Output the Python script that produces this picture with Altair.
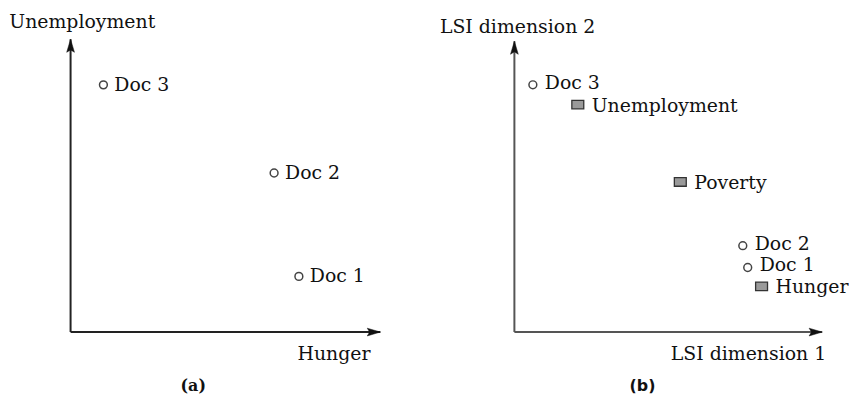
import altair as alt
import pandas as pd

# ---------------- data ----------------
# Panel (a): documents in the original term space (Hunger vs Unemployment)
a_docs = ["Doc 3", "Doc 2", "Doc 1"]
a_doc_x = [1.06, 6.57, 7.37]
a_doc_y = [8.44, 5.43, 1.90]

# Panel (b): documents and terms in the LSI space
b_docs = ["Doc 3", "Doc 2", "Doc 1"]
b_doc_x = [0.60, 7.42, 7.58]
b_doc_y = [8.50, 2.97, 2.22]
b_terms = ["Unemployment", "Poverty", "Hunger"]
b_term_x = [2.06, 5.39, 8.03]
b_term_y = [7.82, 5.16, 1.57]

a_titles = {"x": "Hunger", "y": "Unemployment", "tag": "(a)"}
b_titles = {"x": "LSI dimension 1", "y": "LSI dimension 2", "tag": "(b)"}

AXIS_END = 10

SERIF = "DejaVu Serif"
UP_ARROW = "M0,0L-0.65,2.2L0,1.8L0.65,2.2Z"
RIGHT_ARROW = "M0,0L-2.2,-0.65L-1.8,0L-2.2,0.65Z"
SQUARE = "M-1,-0.72H1V0.72H-1Z"


def panel(xdom, ydom, width, height, docs, terms, titles, ytitle_at, xtitle_at,
          tag_at, tag_font, axis_color, doc_dx, term_dx, doc_dy, term_dy):
    xs = alt.Scale(domain=xdom, nice=False, zero=False)
    ys = alt.Scale(domain=ydom, nice=False, zero=False)

    def enc(**extra):
        return dict(
            x=alt.X("x:Q", scale=xs, axis=None),
            y=alt.Y("y:Q", scale=ys, axis=None),
            **extra,
        )

    axes_df = pd.DataFrame({"x": [0, 0], "y": [0, 0],
                            "x2": [AXIS_END, 0], "y2": [0, AXIS_END]})
    axes = alt.Chart(axes_df).mark_rule(color=axis_color, strokeWidth=2).encode(
        **enc(x2="x2:Q", y2="y2:Q"))

    up = alt.Chart(pd.DataFrame({"x": [0], "y": [AXIS_END]})).mark_point(
        shape=UP_ARROW, size=144, filled=True, fill="#111", stroke="#111",
        strokeWidth=0.5, opacity=1).encode(**enc())
    right = alt.Chart(pd.DataFrame({"x": [AXIS_END], "y": [0]})).mark_point(
        shape=RIGHT_ARROW, size=144, filled=True, fill="#111", stroke="#111",
        strokeWidth=0.5, opacity=1).encode(**enc())

    layers = [axes, up, right]

    doc_df = pd.DataFrame(docs)
    layers.append(alt.Chart(doc_df).mark_point(
        shape="circle", size=62, filled=False, stroke="#444", strokeWidth=1.5,
        opacity=1).encode(**enc()))
    layers.append(alt.Chart(doc_df).mark_text(
        align="left", baseline="middle", dx=doc_dx, dy=doc_dy, font=SERIF,
        fontSize=19, color="#111").encode(**enc(text="label:N")))

    if terms is not None:
        term_df = pd.DataFrame(terms)
        layers.append(alt.Chart(term_df).mark_point(
            shape=SQUARE, size=144, filled=True, fill="#9a9a9a", stroke="#333",
            strokeWidth=1.3, opacity=1).encode(**enc()))
        layers.append(alt.Chart(term_df).mark_text(
            align="left", baseline="middle", dx=term_dx, dy=term_dy, font=SERIF,
            fontSize=19, color="#111").encode(**enc(text="label:N")))

    ytitle = alt.Chart(pd.DataFrame({"x": [ytitle_at[0]], "y": [ytitle_at[1]],
                                     "label": [titles["y"]]})).mark_text(
        align="left", baseline="alphabetic", font=SERIF, fontSize=19,
        color="#111").encode(**enc(text="label:N"))
    xtitle = alt.Chart(pd.DataFrame({"x": [xtitle_at[0]], "y": [xtitle_at[1]],
                                     "label": [titles["x"]]})).mark_text(
        align="right", baseline="alphabetic", font=SERIF, fontSize=19,
        color="#111").encode(**enc(text="label:N"))
    tag = alt.Chart(pd.DataFrame({"x": [tag_at[0]], "y": [tag_at[1]],
                                  "label": [titles["tag"]]})).mark_text(
        align="center", baseline="bottom", font=tag_font, fontSize=16,
        fontWeight="bold", color="#111").encode(**enc(text="label:N"))
    layers += [ytitle, xtitle, tag]

    return alt.layer(*layers).properties(width=width, height=height)


# plot areas: left covers page pixels 8..430, right 430..849, both 8..396 in y
left = panel(
    xdom=[-2.02, 11.506], ydom=[-2.136, 11.017], width=422, height=388,
    docs={"x": a_doc_x, "y": a_doc_y, "label": a_docs},
    terms=None, titles=a_titles,
    ytitle_at=(-1.98, 10.37), xtitle_at=(9.68, -0.95), tag_at=(3.96, -2.13),
    tag_font="DejaVu Serif", axis_color="#222", doc_dx=11, term_dx=14,
    doc_dy=0, term_dy=0,
)

right = panel(
    xdom=[-2.839, 10.677], ydom=[-2.150, 11.092], width=419, height=388,
    docs={"x": b_doc_x, "y": b_doc_y, "label": b_docs},
    terms={"x": b_term_x, "y": b_term_y, "label": b_terms}, titles=b_titles,
    ytitle_at=(-2.42, 10.27), xtitle_at=(10.13, -0.96), tag_at=(4.16, -2.14),
    tag_font="DejaVu Sans", axis_color="#555", doc_dx=12, term_dx=14,
    doc_dy=-2, term_dy=1,
)

chart = alt.hconcat(left, right, spacing=0).properties(
    padding=0, background="white",
).configure_view(stroke=None)

chart.save("out.html", embed_options={"renderer": "svg", "actions": False})
